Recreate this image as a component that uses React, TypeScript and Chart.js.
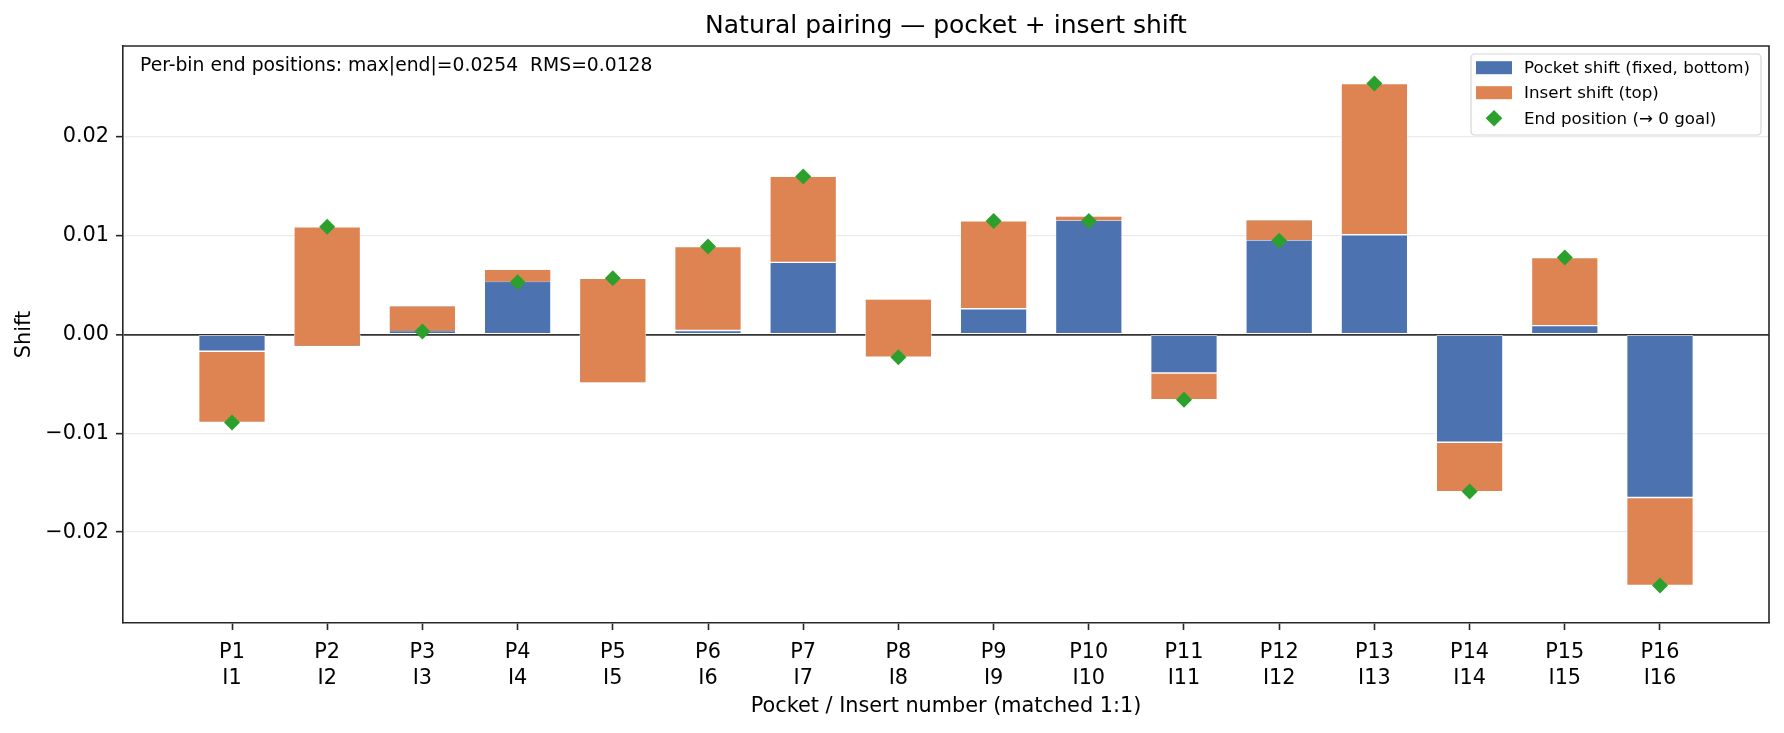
import React, { useEffect, useRef } from 'react';
import { Chart, registerables } from 'chart.js';

Chart.register(...registerables);

// Matched pocket / insert pairs
const pocketLabels = ['P1', 'P2', 'P3', 'P4', 'P5', 'P6', 'P7', 'P8', 'P9', 'P10', 'P11', 'P12', 'P13', 'P14', 'P15', 'P16'];
const insertLabels = ['I1', 'I2', 'I3', 'I4', 'I5', 'I6', 'I7', 'I8', 'I9', 'I10', 'I11', 'I12', 'I13', 'I14', 'I15', 'I16'];

// Pocket shift (fixed, drawn from zero) and insert shift (stacked on the pocket)
const pocketShift = [-0.0017, -0.0012, 0.0029, 0.0066, -0.0049, 0.0004, 0.0073, 0.0036, 0.0026, 0.0120, -0.0039, 0.0116, 0.0101, -0.0109, 0.0009, -0.0165];
const insertShift = [-0.0072, 0.0121, -0.0026, -0.0013, 0.0106, 0.0085, 0.0087, -0.0059, 0.0089, -0.0005, -0.0027, -0.0021, 0.0153, -0.0050, 0.0069, -0.0089];

const yTicks = [-0.02, -0.01, 0, 0.01, 0.02];
const yLimit = 0.0292;

const TITLE = 'Natural pairing \u2014 pocket + insert shift';
const SUMMARY = 'Per-bin end positions: max|end|=0.0254  RMS=0.0128';
const X_TITLE = 'Pocket / Insert number (matched 1:1)';
const Y_TITLE = 'Shift';
const LEGEND = ['Pocket shift (fixed, bottom)', 'Insert shift (top)', 'End position (\u2192 0 goal)'];

const BLUE = '#4c72b0';
const ORANGE = '#dd8452';
const GREEN = '#2ca02c';
const INK = '#262626';
const FONT = '"DejaVu Sans", sans-serif';

const decorations = {
  id: 'decorations',
  beforeDraw(chart: any) {
    const { ctx, width, height } = chart;
    ctx.save();
    ctx.fillStyle = '#ffffff';
    ctx.fillRect(0, 0, width, height);
    ctx.restore();
  },
  afterDatasetsDraw(chart: any) {
    const { ctx, chartArea: a } = chart;
    ctx.save();
    // remaining frame sides
    ctx.strokeStyle = INK;
    ctx.lineWidth = 1.6;
    ctx.beginPath();
    ctx.moveTo(a.left, a.top);
    ctx.lineTo(a.right, a.top);
    ctx.lineTo(a.right, a.bottom);
    ctx.stroke();

    // summary text
    ctx.fillStyle = '#000';
    ctx.font = `18.75px ${FONT}`;
    ctx.textAlign = 'left';
    ctx.textBaseline = 'alphabetic';
    ctx.fillText(SUMMARY, a.left + 17, a.top + 25);

    // legend
    const lx = 1471, ly = 54, lw = 290, lh = 81;
    ctx.beginPath();
    ctx.roundRect(lx, ly, lw, lh, 4);
    ctx.fillStyle = 'rgba(255,255,255,0.8)';
    ctx.fill();
    ctx.strokeStyle = '#d6d6d6';
    ctx.lineWidth = 1.2;
    ctx.stroke();
    const rows = [67.7, 92.7, 118.3];
    ctx.fillStyle = BLUE;
    ctx.fillRect(1476, rows[0] - 6.5, 36, 13);
    ctx.fillStyle = ORANGE;
    ctx.fillRect(1476, rows[1] - 6.5, 36, 13);
    ctx.fillStyle = GREEN;
    ctx.beginPath();
    ctx.moveTo(1494, rows[2] - 8.3);
    ctx.lineTo(1502.3, rows[2]);
    ctx.lineTo(1494, rows[2] + 8.3);
    ctx.lineTo(1485.7, rows[2]);
    ctx.closePath();
    ctx.fill();
    ctx.fillStyle = '#000';
    ctx.font = `16.7px ${FONT}`;
    ctx.textBaseline = 'middle';
    LEGEND.forEach((t, i) => ctx.fillText(t, 1524, rows[i] + 1));
    ctx.restore();
  },
  afterDraw(chart: any) {
    const { ctx, chartArea: a } = chart;
    const cx = (a.left + a.right) / 2;
    ctx.save();
    ctx.fillStyle = '#000';
    ctx.textAlign = 'center';
    ctx.font = `25px ${FONT}`;
    ctx.textBaseline = 'alphabetic';
    ctx.fillText(TITLE, cx, 33);
    ctx.font = `20.8px ${FONT}`;
    ctx.textBaseline = 'middle';
    ctx.fillText(X_TITLE, cx, 707);
    ctx.translate(25, (a.top + a.bottom) / 2);
    ctx.rotate(-Math.PI / 2);
    ctx.fillText(Y_TITLE, 0, 0);
    ctx.restore();
  },
};

export default function App() {
  const canvasRef = useRef<HTMLCanvasElement | null>(null);

  useEffect(() => {
    const canvas = canvasRef.current;
    if (!canvas) return;

    const pocketBars = pocketShift.map((p, i) => ({ x: i, y: [0, p] }));
    const insertBars = pocketShift.map((p, i) => ({ x: i, y: [p, p + insertShift[i]] }));
    const endPoints = pocketShift.map((p, i) => ({ x: i, y: p + insertShift[i] }));

    const chart = new Chart(canvas, {
      type: 'bar',
      data: {
        datasets: [
          {
            type: 'line',
            label: LEGEND[2],
            data: endPoints,
            showLine: false,
            pointStyle: 'rectRot',
            pointRadius: 8,
            pointBackgroundColor: GREEN,
            pointBorderWidth: 0,
            order: 0,
          } as any,
          {
            label: LEGEND[1],
            data: insertBars,
            backgroundColor: ORANGE,
            borderColor: '#ffffff',
            borderWidth: 0.7,
            borderSkipped: false,
            grouped: false,
            barPercentage: 0.7,
            categoryPercentage: 1,
            order: 1,
          },
          {
            label: LEGEND[0],
            data: pocketBars,
            backgroundColor: BLUE,
            borderColor: '#ffffff',
            borderWidth: 0.7,
            borderSkipped: false,
            grouped: false,
            barPercentage: 0.7,
            categoryPercentage: 1,
            order: 2,
          },
        ] as any,
      },
      plugins: [decorations],
      options: {
        responsive: false,
        animation: false,
        devicePixelRatio: 1,
        layout: { padding: { top: 46, right: 15, bottom: 0, left: 0 } },
        plugins: {
          legend: { display: false },
          title: { display: false },
          tooltip: { enabled: false },
        },
        scales: {
          x: {
            type: 'linear',
            min: -1.145,
            max: 16.145,
            offset: false,
            afterBuildTicks: (axis: any) => {
              axis.ticks = pocketLabels.map((_, i) => ({ value: i }));
            },
            afterFit: (axis: any) => {
              axis.height = 110;
            },
            ticks: {
              autoSkip: false,
              maxRotation: 0,
              padding: 10,
              color: '#000',
              font: { family: FONT, size: 20.8, lineHeight: 1.25 },
              callback: (v: any) => {
                const i = Math.round(Number(v));
                return [pocketLabels[i], insertLabels[i]];
              },
            },
            grid: {
              offset: false,
              drawOnChartArea: false,
              drawTicks: true,
              tickLength: 7,
              tickColor: INK,
              tickWidth: 1.6,
            },
            border: { color: INK, width: 1.6 },
          },
          y: {
            type: 'linear',
            min: -yLimit,
            max: yLimit,
            afterBuildTicks: (axis: any) => {
              axis.ticks = yTicks.map((v) => ({ value: v }));
            },
            afterFit: (axis: any) => {
              axis.width = 123;
            },
            ticks: {
              padding: 7,
              color: '#000',
              font: { family: FONT, size: 20.8 },
              callback: (v: any) => Number(v).toFixed(2).replace('-', '\u2212'),
            },
            grid: {
              color: (c: any) => (c.tick && c.tick.value === 0 ? '#333333' : '#ebebeb'),
              lineWidth: (c: any) => (c.tick && c.tick.value === 0 ? 1.7 : 1.3),
              drawTicks: true,
              tickLength: 7,
              tickColor: INK,
              tickWidth: 1.6,
            },
            border: { color: INK, width: 1.6 },
          },
        },
      } as any,
    });

    return () => chart.destroy();
  }, []);

  return (
    <div style={{ position: 'fixed', left: 0, top: 0, width: 1784, height: 733, background: '#fff' }}>
      <canvas ref={canvasRef} width={1784} height={733} style={{ display: 'block' }} />
    </div>
  );
}
